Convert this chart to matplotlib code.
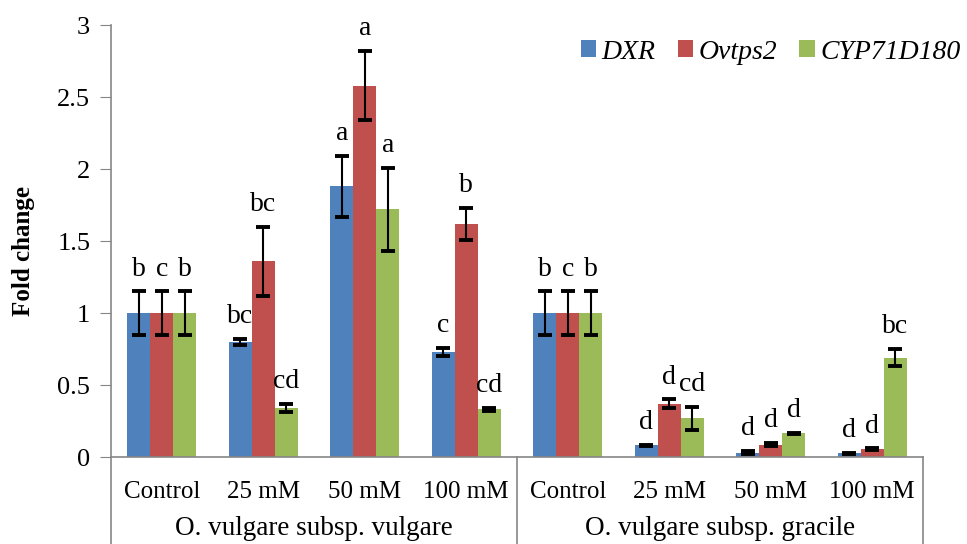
import numpy as np
import matplotlib
matplotlib.use("Agg")
import matplotlib.pyplot as plt

plt.rcParams['font.family'] = ['Liberation Serif', 'DejaVu Serif']

treatments = ["Control", "25 mM", "50 mM", "100 mM"] * 2
species = ["O. vulgare subsp. vulgare", "O. vulgare subsp. gracile"]
genes = ["DXR", "Ovtps2", "CYP71D180"]
colors = ["#4F81BD", "#C0504D", "#9BBB59"]

dxr = [1.0, 0.80, 1.88, 0.73, 1.0, 0.08, 0.03, 0.025]
dxr_err = [0.15, 0.02, 0.21, 0.03, 0.15, 0.005, 0.01, 0.005]
ovtps2 = [1.0, 1.36, 2.58, 1.62, 1.0, 0.37, 0.085, 0.055]
ovtps2_err = [0.15, 0.24, 0.24, 0.11, 0.15, 0.03, 0.01, 0.005]
cyp = [1.0, 0.34, 1.72, 0.33, 1.0, 0.27, 0.165, 0.69]
cyp_err = [0.15, 0.03, 0.29, 0.01, 0.15, 0.08, 0.005, 0.06]

dxr_let = ["b", "bc", "a", "c", "b", "d", "d", "d"]
ovtps2_let = ["c", "bc", "a", "b", "c", "d", "d", "d"]
cyp_let = ["b", "cd", "a", "cd", "b", "cd", "d", "bc"]

values = [dxr, ovtps2, cyp]
errors = [dxr_err, ovtps2_err, cyp_err]
letters = [dxr_let, ovtps2_let, cyp_let]

fig = plt.figure(figsize=(9.67, 5.44), dpi=100)
ax = fig.add_axes([0.1148, 0.1599, 0.8397, 0.7941])

x = np.arange(len(treatments))
w = 0.227
for i, (vals, errs, lets) in enumerate(zip(values, errors, letters)):
    pos = x + (i - 1) * w
    ax.bar(pos, vals, w, color=colors[i], label=genes[i], zorder=2)
    ax.errorbar(pos, vals, yerr=errs, fmt="none", ecolor="black",
                elinewidth=1.5, capsize=5, capthick=2.8, zorder=3)
    for p, v, e, t in zip(pos, vals, errs, lets):
        ax.text(p, v + e + 0.11, t, ha="center", va="baseline", fontsize=20)

ax.set_xlim(-0.5, len(treatments) - 0.5)
ax.set_ylim(0, 3)
ax.set_yticks(np.arange(0, 3.01, 0.5))
ax.set_yticklabels(["0", "0.5", "1", "1.5", "2", "2.5", "3"], fontsize=19)
ax.set_ylabel("Fold change", fontsize=18, fontweight="bold")
ax.yaxis.set_label_coords(-0.094, 0.477)

ax.set_xticks(x)
ax.set_xticklabels(treatments, fontsize=18)
ax.tick_params(axis="x", length=0, pad=17)
ax.tick_params(axis="y", length=8, color="#868686", pad=7)

for s in ["top", "right"]:
    ax.spines[s].set_visible(False)
for s in ["left", "bottom"]:
    ax.spines[s].set_color("#868686")
    ax.spines[s].set_linewidth(1.2)

# category box lines below the axis
trans = ax.get_xaxis_transform()
for xv in [-0.5, 3.5, 7.5]:
    ax.plot([xv, xv], [0, -0.3], transform=trans, color="#868686",
            lw=1.2, clip_on=False)
for k, name in enumerate(species):
    ax.text(1.5 + 4 * k, -0.181, name, transform=trans, ha="center",
            va="baseline", fontsize=19.5)

leg = ax.legend(loc="upper right", bbox_to_anchor=(1.077, 1.024), ncol=3,
                frameon=False, handlelength=0.55, handleheight=0.55,
                handletextpad=0.2, columnspacing=0.8,
                prop={"style": "italic", "size": 20})

fig.savefig("out.png", dpi=100)
